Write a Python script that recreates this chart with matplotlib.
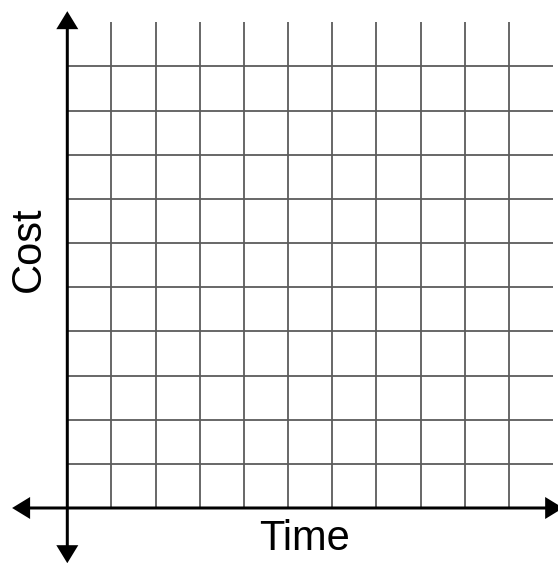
import matplotlib
matplotlib.use("Agg")
import matplotlib.pyplot as plt

# Data: blank grid for a Cost vs Time sketch
grid_cols = 11
grid_rows = 11
x_gridlines = [1, 2, 3, 4, 5, 6, 7, 8, 9, 10]
y_gridlines = [1, 2, 3, 4, 5, 6, 7, 8, 9, 10]
x_label = "Time"
y_label = "Cost"

W, H, DPI = 558, 563, 100
fig = plt.figure(figsize=(W / DPI, H / DPI), dpi=DPI)
ax = fig.add_axes([0, 0, 1, 1])
ax.set_axis_off()

u = grid_cols / 485.7  # data units per pixel
ax.set_xlim(-67.3 * u, grid_cols + 5 * u)
ax.set_ylim(-55 * u, grid_rows + 22.2 * u)

grid_color = "#5c5c5c"
for x in x_gridlines:
    ax.plot([x, x], [0, grid_rows], color=grid_color, lw=1.3, solid_capstyle="butt", zorder=1)
for y in y_gridlines:
    ax.plot([0, grid_cols], [y, y], color=grid_color, lw=1.3, solid_capstyle="butt", zorder=1)

# axes with arrowheads
hw = 22 * u
hl = 18 * u
lw_ = 3.0 * u
ext_pos = 0.25
ext_neg = 1.25
for dx, dy in [(grid_cols + ext_pos - 0.02, 0), (-ext_neg, 0), (0, grid_rows + ext_pos), (0, -ext_neg)]:
    ax.arrow(0, 0, dx, dy, width=lw_, head_width=hw, head_length=hl,
             length_includes_head=True, color="black", lw=0, zorder=3)

font = ["Liberation Sans", "DejaVu Sans"]
ax.text(-38.3 * u, (508 - 249) * u, y_label, rotation=90, ha="center", va="center",
        fontsize=30, family=font, color="black")
ax.text((304 - 67.3) * u, -42 * u, x_label, ha="center", va="baseline",
        fontsize=30, family=font, color="black")

fig.savefig("out.png", dpi=DPI)
